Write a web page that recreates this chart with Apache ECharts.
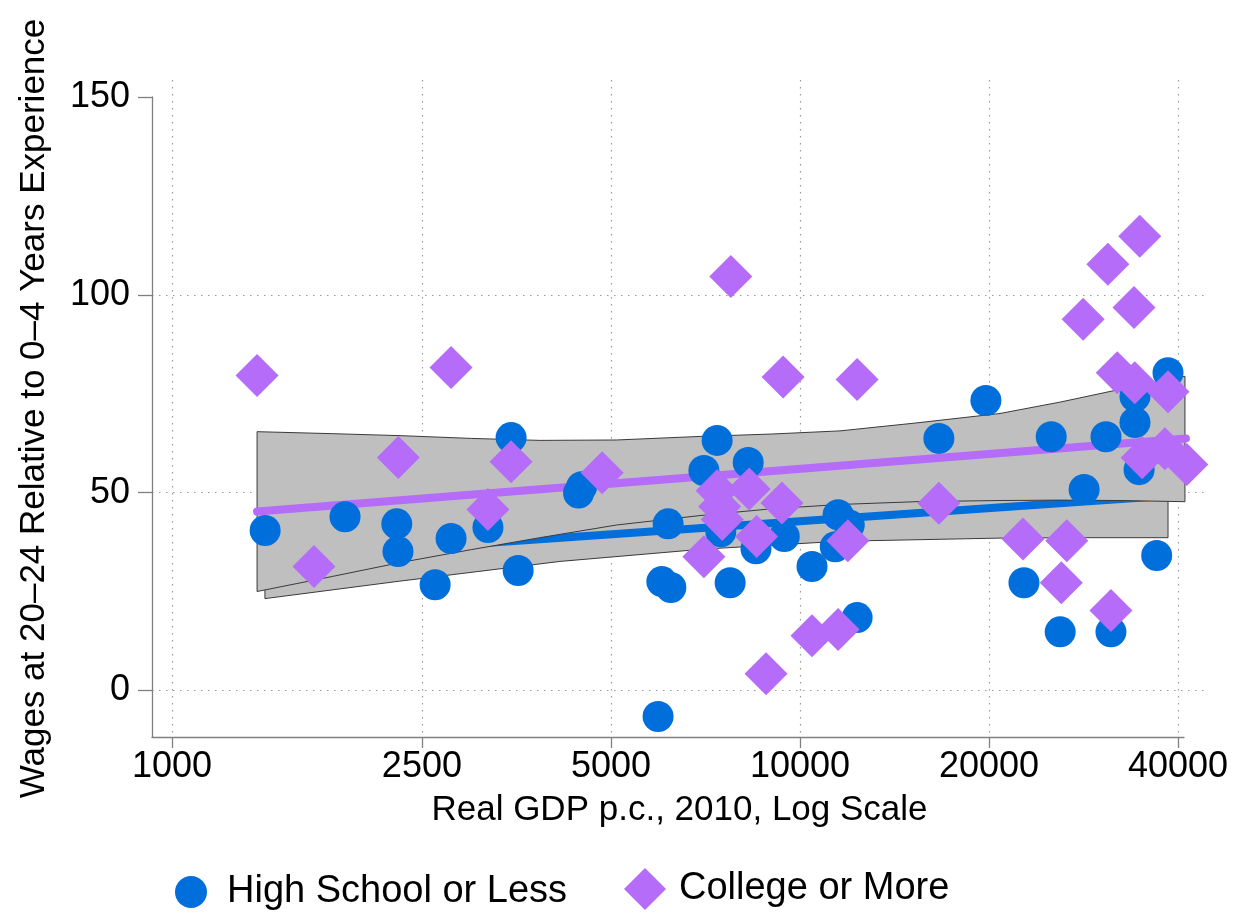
<!DOCTYPE html>
<html><head><meta charset="utf-8">
<script src="https://cdn.jsdelivr.net/npm/echarts@6/dist/echarts.min.js"></script>
<style>html,body{margin:0;padding:0;background:#fff}#c{width:1244px;height:915px}</style>
</head><body><div id="c"></div>
<script>
// ---- data (GDP per capita in 2010 $, wage growth %) ----
const xTickValues = [1000, 2500, 5000, 10000, 20000, 40000];
const yTickValues = [0, 50, 100, 150];
const yGridValues = [0, 50, 100];

const hsGDP  = [1407,1886,2280,2290,2624,2782,3185,3467,3558,4440,4490,5943,6025,6166,6228,7030,7380,7480,7740,8270,8510,9440,10450,11380,11500,11980,12330,16640,19770,22730,25120,25960,28340,30710,31270,34150,34150,34670,36980,38550];
const hsWage = [40.4,43.9,42.1,35.1,26.7,38.4,41.2,63.9,30.3,49.9,51.5,-6.6,27.5,42.1,26.0,55.6,63.2,40.1,27.2,57.6,35.8,38.9,31.3,36.3,44.4,41.8,18.4,63.7,73.3,27.2,64.1,14.8,50.8,64.1,14.8,74.3,67.7,55.8,34.1,80.3];

const colGDP  = [1366,1683,2293,2782,3185,3467,4842,7030,7380,7520,7450,7760,8300,8530,8830,9360,9400,10450,11500,11920,12330,16640,22650,26070,26600,28240,30920,31270,32000,34030,34120,34750,35060,38110,38550,41300];
const colWage = [79.6,31.3,58.9,81.6,45.7,57.8,55.0,33.8,50.5,43.2,46.5,104.6,50.9,38.9,4.2,47.4,79.2,13.8,15.4,37.8,78.6,47.3,38.3,27.2,37.8,93.8,107.7,20.2,80.3,96.8,77.8,114.8,58.8,61.1,75.5,57.1];

// fitted lines
const hsFitGDP  = [1407, 38550];
const hsFitWage = [33.4, 49.2];
const colFitGDP  = [1366, 41170];
const colFitWage = [45.2, 63.7];

// confidence bands
const hsBandGDP  = [1406, 2300, 4147, 7000, 11580, 20820, 28500, 38550];
const hsBandLow  = [23.2, 27.6, 32.6, 35.7, 37.7, 38.5, 38.6, 38.6];
const hsBandHigh = [43.6, 43.4, 44.3, 46.8, 50.1, 54.8, 57.3, 59.8];
const colBandGDP  = [1366, 1800, 2307, 3000, 3853, 5100, 6932, 9000, 11580, 15300, 20820, 26000, 32330, 41020];
const colBandLow  = [25.0, 28.8, 32.3, 35.6, 38.6, 41.8, 44.2, 45.9, 47.0, 47.7, 48.0, 48.1, 48.0, 47.7];
const colBandHigh = [65.4, 64.9, 64.4, 63.7, 63.2, 63.3, 64.2, 64.8, 65.6, 67.6, 70.0, 72.9, 76.1, 79.4];

// ---- chart ----
const L = v => Math.log10(v);
const pts = (xs, ys) => xs.map((x, i) => [L(x), ys[i]]);
const FONT = '"Liberation Sans", Arial, Helvetica, sans-serif';
const BLUE = '#006FDB', PURPLE = '#B46CF9';
const AXIS_GREY = '#808080';

const XMIN = 2.96815, XMAX_A = 4.61147, XMAX_B = 4.64809;
const YMIN = -11.78, YMAX_A = 150, YMAX_B = 154.3;

function band(xs, lo, hi, z) {
  return {
    type: 'custom', xAxisIndex: 1, yAxisIndex: 1, silent: true, z,
    data: [[L(xs[0]), lo[0]]],
    renderItem: (params, api) => {
      const up = xs.map((x, i) => api.coord([L(x), hi[i]]));
      const dn = xs.map((x, i) => api.coord([L(x), lo[i]])).reverse();
      return { type: 'polygon', shape: { points: up.concat(dn) },
               style: { fill: '#bfbfbf', stroke: '#3a3a3a', lineWidth: 1 } };
    }
  };
}
function fit(xs, ys, color, z) {
  return { type: 'line', xAxisIndex: 1, yAxisIndex: 1, silent: true, data: pts(xs, ys), z,
           symbol: 'none', lineStyle: { color, width: 8, cap: 'round' } };
}

const chart = echarts.init(document.getElementById('c'), null, { renderer: 'canvas' });
chart.setOption({
  animation: false,
  backgroundColor: '#fff',
  textStyle: { fontFamily: FONT, color: '#000' },
  grid: [
    { left: 152, right: 60, top: 97, bottom: 178, outerBoundsMode: 'none' },
    { left: 152, right: 37, top: 80, bottom: 178, outerBoundsMode: 'none' }
  ],
  xAxis: [
    { type: 'value', gridIndex: 0, min: XMIN, max: XMAX_A,
      axisLine: { show: true, onZero: false, lineStyle: { color: AXIS_GREY, width: 1.3 } },
      axisTick: { show: true, length: 11, customValues: xTickValues.map(L), lineStyle: { color: AXIS_GREY, width: 1.3 } },
      axisLabel: { show: true, customValues: xTickValues.map(L), formatter: v => String(Math.round(Math.pow(10, v))),
                   fontSize: 36, color: '#000', fontFamily: FONT, margin: 12 },
      splitLine: { show: false } },
    { type: 'value', gridIndex: 1, min: XMIN, max: XMAX_B,
      name: 'Real GDP p.c., 2010, Log Scale', nameLocation: 'middle', nameGap: 56,
      nameTextStyle: { fontSize: 35, color: '#000', fontFamily: FONT },
      axisLine: { show: false, onZero: false },
      axisTick: { show: false, customValues: xTickValues.map(L) },
      axisLabel: { show: false },
      splitLine: { show: true, lineStyle: { color: '#9a9a9a', width: 1.2, type: [1.5, 5.5] } } }
  ],
  yAxis: [
    { type: 'value', gridIndex: 0, min: YMIN, max: YMAX_A,
      axisLine: { show: true, onZero: false, lineStyle: { color: AXIS_GREY, width: 1.3 } },
      axisTick: { show: true, length: 14, customValues: yTickValues, lineStyle: { color: AXIS_GREY, width: 1.3 } },
      axisLabel: { show: true, customValues: yTickValues, fontSize: 36, color: '#000', fontFamily: FONT, margin: 22 },
      splitLine: { show: false } },
    { type: 'value', gridIndex: 1, min: YMIN, max: YMAX_B,
      name: 'Wages at 20\u201324 Relative to 0\u20134 Years Experience', nameLocation: 'middle', nameGap: 100, nameRotate: 90,
      nameTextStyle: { fontSize: 35, color: '#000', fontFamily: FONT },
      axisLine: { show: false, onZero: false },
      axisTick: { show: false, customValues: yGridValues },
      axisLabel: { show: false },
      splitLine: { show: true, lineStyle: { color: '#9a9a9a', width: 1.2, type: [1.5, 5.5] } } }
  ],
  legend: [
    { data: ['High School or Less'], left: 175, top: 873, itemWidth: 32, itemHeight: 32, padding: 0,
      selectedMode: false,
      textStyle: { fontSize: 38, color: '#000', fontFamily: FONT, padding: [0, 0, 0, 15] } },
    { data: ['College or More'], left: 624, top: 868, itemWidth: 42, itemHeight: 42, padding: 0,
      selectedMode: false,
      textStyle: { fontSize: 38, color: '#000', fontFamily: FONT, padding: [0, 0, 0, 8] } }
  ],
  series: [
    band(hsBandGDP, hsBandLow, hsBandHigh, 3),
    fit(hsFitGDP, hsFitWage, BLUE, 4),
    band(colBandGDP, colBandLow, colBandHigh, 5),
    fit(colFitGDP, colFitWage, PURPLE, 6),
    { name: 'High School or Less', type: 'scatter', xAxisIndex: 1, yAxisIndex: 1, data: pts(hsGDP, hsWage), z: 7,
      symbol: 'circle', symbolSize: 31, itemStyle: { color: BLUE, opacity: 1 }, clip: false },
    { name: 'College or More', type: 'scatter', xAxisIndex: 1, yAxisIndex: 1, data: pts(colGDP, colWage), z: 8,
      symbol: 'diamond', symbolSize: [43, 43], itemStyle: { color: PURPLE, opacity: 1 }, clip: false }
  ]
});
</script></body></html>
